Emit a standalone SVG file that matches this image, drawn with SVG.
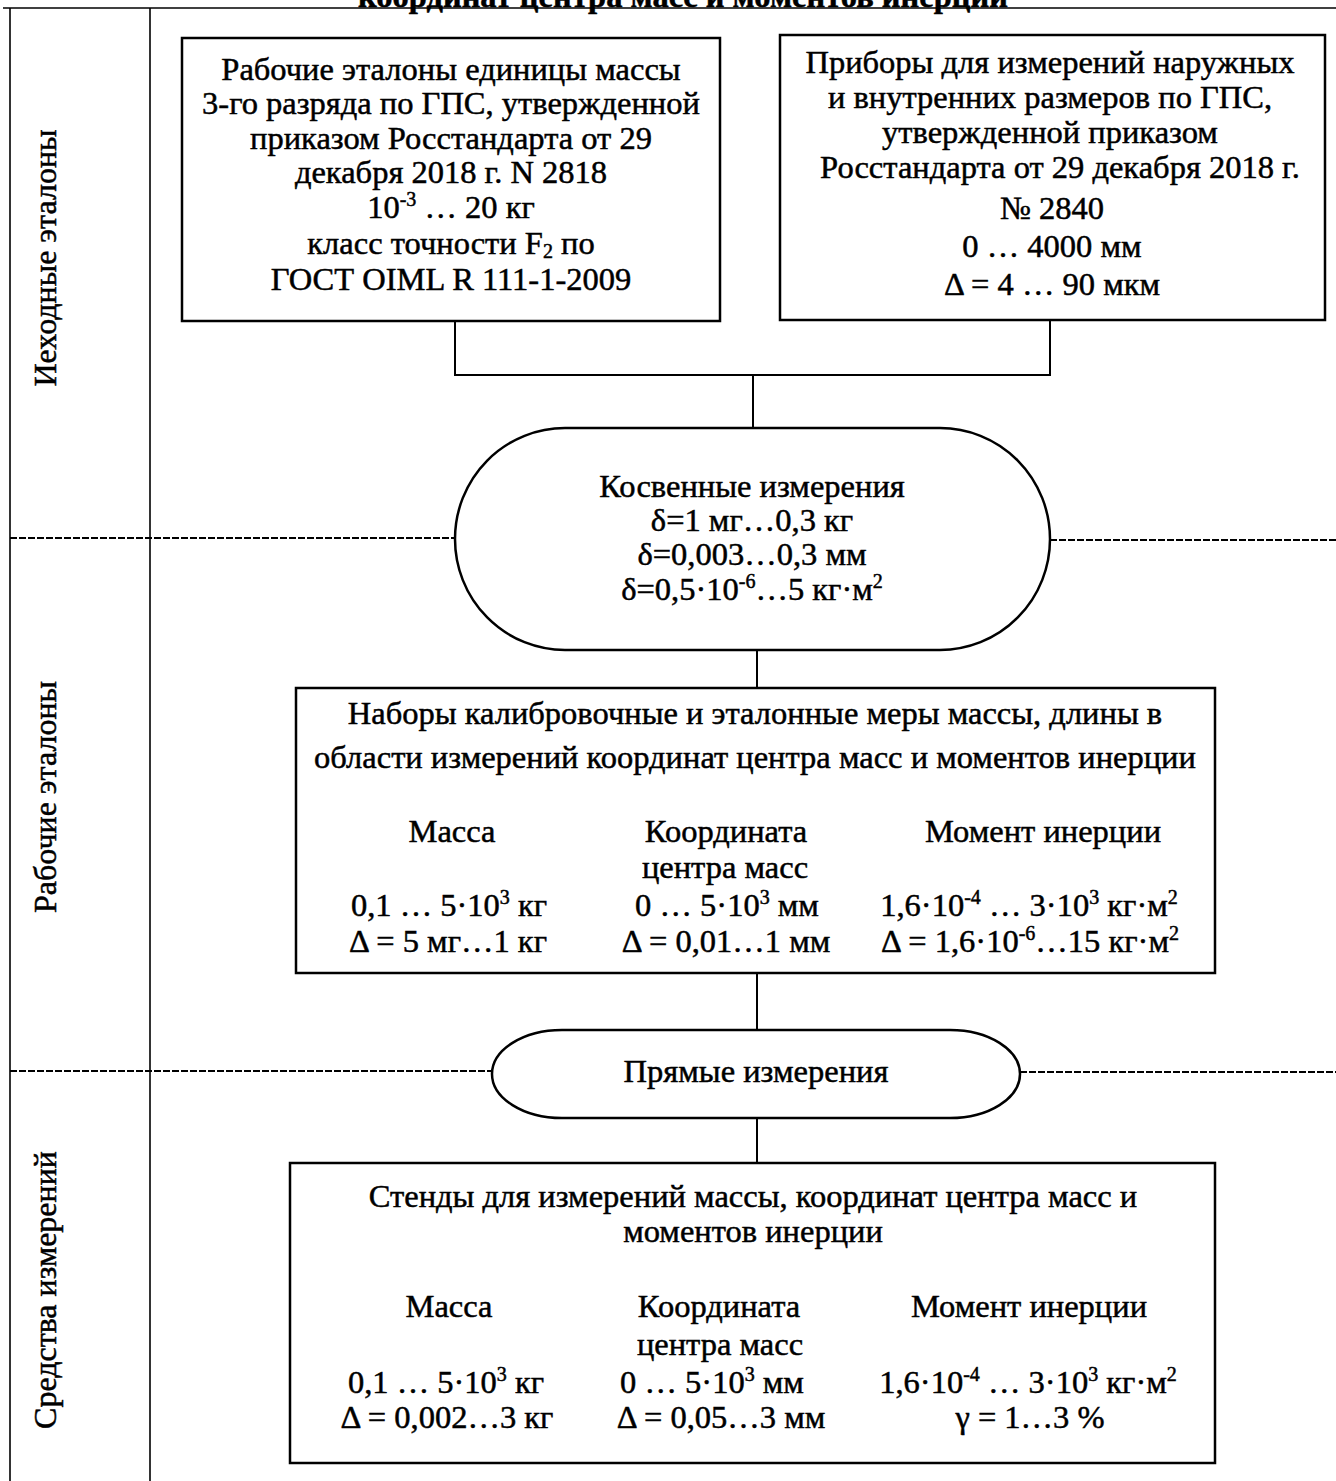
<svg xmlns="http://www.w3.org/2000/svg" width="1336" height="1481" viewBox="0 0 1336 1481">
<style>
text{font-family:"Liberation Serif","Times New Roman",serif;font-size:32.5px;fill:#000;stroke:#000;stroke-width:0.5;text-anchor:middle}
.t{font-weight:bold}
.box{fill:#fff;stroke:#000;stroke-width:2.5}
.frame{stroke:#000;stroke-width:1.6;fill:none}
.dash{stroke:#000;stroke-width:2;fill:none;stroke-dasharray:7 2}
.con{stroke:#000;stroke-width:2;fill:none}
.sup{font-size:20px}
.lane{font-size:32px}
</style>
<rect width="1336" height="1481" fill="#fff"/>
<text class="t" x="683" y="7">координат центра масс и моментов инерции</text>
<g id="frame">
<line class="frame" x1="3" y1="8" x2="1336" y2="8"/>
<line class="frame" x1="10" y1="8" x2="10" y2="1481"/>
<line class="frame" x1="150" y1="8" x2="150" y2="1481"/>
</g>
<g id="lane-labels">
<text class="lane" transform="translate(56,258) rotate(-90)">Иеходные эталоны</text>
<text class="lane" transform="translate(56,797) rotate(-90)">Рабочие эталоны</text>
<text class="lane" transform="translate(56,1290) rotate(-90)">Средства измерений</text>
</g>
<g id="dividers">
<line class="dash" x1="10" y1="538" x2="455" y2="538"/>
<line class="dash" x1="1050" y1="540" x2="1336" y2="540"/>
<line class="dash" x1="10" y1="1071" x2="492" y2="1071"/>
<line class="dash" x1="1020" y1="1072" x2="1336" y2="1072"/>
</g>
<g id="connectors">
<line class="con" x1="455" y1="321" x2="455" y2="375"/>
<line class="con" x1="1050" y1="320" x2="1050" y2="375"/>
<line class="con" x1="454" y1="375" x2="1051" y2="375"/>
<line class="con" x1="753" y1="375" x2="753" y2="428"/>
<line class="con" x1="757" y1="650" x2="757" y2="688"/>
<line class="con" x1="757" y1="973" x2="757" y2="1030"/>
<line class="con" x1="757" y1="1118" x2="757" y2="1163"/>
</g>
<g id="node-mass-etalon">
<rect class="box" x="182" y="38" width="538" height="283"/>
<text x="451" y="80">Рабочие эталоны единицы массы</text>
<text x="451" y="114">3-го разряда по ГПС, утвержденной</text>
<text x="451" y="149">приказом Росстандарта от 29</text>
<text x="451" y="183">декабря 2018 г. N 2818</text>
<text x="451" y="218">10<tspan class="sup" dy="-12">-3</tspan><tspan dy="12"> … 20 кг</tspan></text>
<text x="451" y="254">класс точности F<tspan class="sup" dy="4">2</tspan><tspan dy="-4"> по</tspan></text>
<text x="451" y="290">ГОСТ OIML R 111-1-2009</text>
</g>
<g id="node-length-instruments">
<rect class="box" x="780" y="35" width="545" height="285"/>
<text x="1050" y="73">Приборы для измерений наружных</text>
<text x="1050" y="108">и внутренних размеров по ГПС,</text>
<text x="1050" y="143">утвержденной приказом</text>
<text x="1060" y="178">Росстандарта от 29 декабря 2018 г.</text>
<text x="1052" y="219">№ 2840</text>
<text x="1052" y="257">0 … 4000 мм</text>
<text x="1052" y="295">Δ = 4 … 90 мкм</text>
</g>
<g id="node-indirect">
<rect class="box" x="455" y="428" width="595" height="222" rx="110" ry="111"/>
<text x="752" y="497">Косвенные измерения</text>
<text x="752" y="531">δ=1 мг…0,3 кг</text>
<text x="752" y="565">δ=0,003…0,3 мм</text>
<text x="752" y="600">δ=0,5·10<tspan class="sup" dy="-12">-6</tspan><tspan dy="12">…5 кг·м</tspan><tspan class="sup" dy="-12">2</tspan></text>
</g>
<g id="node-working-etalons">
<rect class="box" x="296" y="688" width="919" height="285"/>
<text x="755" y="724">Наборы калибровочные и эталонные меры массы, длины в</text>
<text x="755" y="768">области измерений координат центра масс и моментов инерции</text>
<text x="452" y="842">Масса</text>
<text x="726" y="842">Координата</text>
<text x="1043" y="842">Момент инерции</text>
<text x="725" y="878">центра масс</text>
<text x="449" y="916">0,1 … 5·10<tspan class="sup" dy="-12">3</tspan><tspan dy="12"> кг</tspan></text>
<text x="727" y="916">0 … 5·10<tspan class="sup" dy="-12">3</tspan><tspan dy="12"> мм</tspan></text>
<text x="1029" y="916">1,6·10<tspan class="sup" dy="-12">-4</tspan><tspan dy="12"> … 3·10</tspan><tspan class="sup" dy="-12">3</tspan><tspan dy="12"> кг·м</tspan><tspan class="sup" dy="-12">2</tspan></text>
<text x="448" y="952">Δ = 5 мг…1 кг</text>
<text x="726" y="952">Δ = 0,01…1 мм</text>
<text x="1030" y="952">Δ = 1,6·10<tspan class="sup" dy="-12">-6</tspan><tspan dy="12">…15 кг·м</tspan><tspan class="sup" dy="-12">2</tspan></text>
</g>
<g id="node-direct">
<rect class="box" x="492" y="1030" width="528" height="88" rx="70" ry="44"/>
<text x="756" y="1082">Прямые измерения</text>
</g>
<g id="node-stands">
<rect class="box" x="290" y="1163" width="925" height="300"/>
<text x="753" y="1207">Стенды для измерений массы, координат центра масс и</text>
<text x="753" y="1242">моментов инерции</text>
<text x="449" y="1317">Масса</text>
<text x="719" y="1317">Координата</text>
<text x="1029" y="1317">Момент инерции</text>
<text x="720" y="1355">центра масс</text>
<text x="446" y="1393">0,1 … 5·10<tspan class="sup" dy="-12">3</tspan><tspan dy="12"> кг</tspan></text>
<text x="712" y="1393">0 … 5·10<tspan class="sup" dy="-12">3</tspan><tspan dy="12"> мм</tspan></text>
<text x="1028" y="1393">1,6·10<tspan class="sup" dy="-12">-4</tspan><tspan dy="12"> … 3·10</tspan><tspan class="sup" dy="-12">3</tspan><tspan dy="12"> кг·м</tspan><tspan class="sup" dy="-12">2</tspan></text>
<text x="447" y="1428">Δ = 0,002…3 кг</text>
<text x="721" y="1428">Δ = 0,05…3 мм</text>
<text x="1030" y="1428">γ = 1…3 %</text>
</g>
</svg>
